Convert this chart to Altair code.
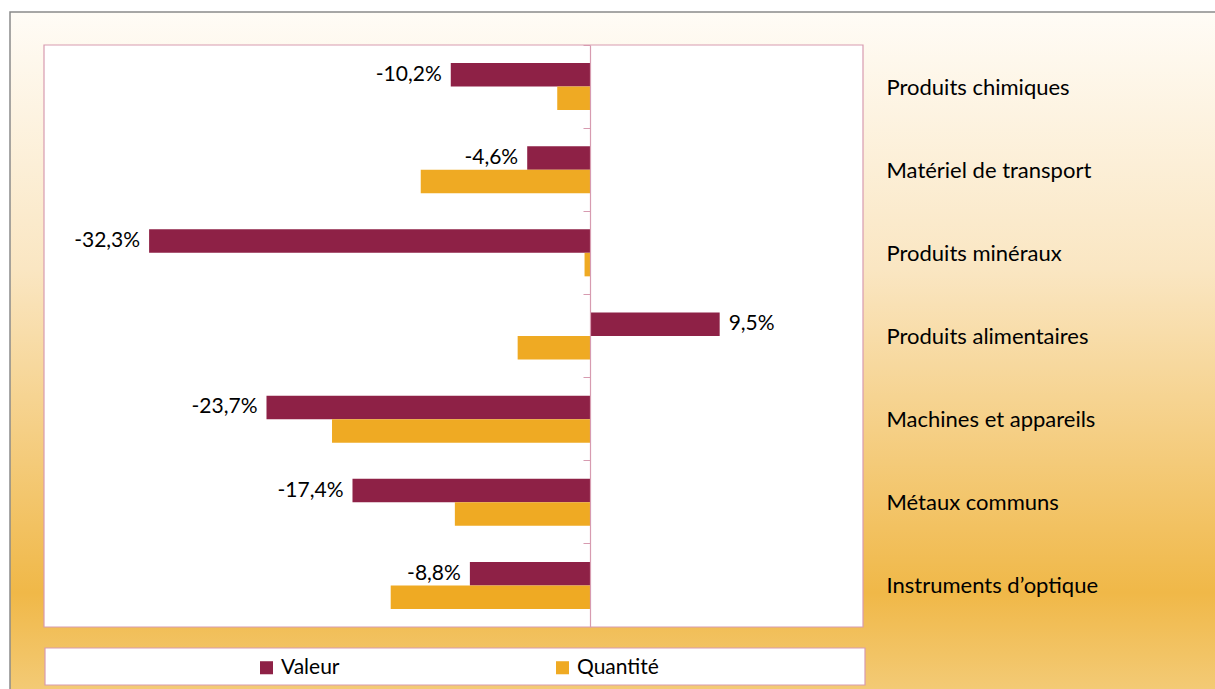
import altair as alt
import pandas as pd

categories = ["Produits chimiques", "Matériel de transport", "Produits minéraux",
              "Produits alimentaires", "Machines et appareils", "Métaux communs",
              "Instruments d’optique"]
valeur = [-10.2, -4.6, -32.3, 9.5, -23.7, -17.4, -8.8]
quantite = [-2.4, -12.4, -0.4, -5.3, -18.9, -9.9, -14.6]
series = ["Valeur", "Quantité"]
colors = ["#8E2146", "#EFAA23"]

rows = []
for c, v, q in zip(categories, valeur, quantite):
    rows.append({"cat": c, "serie": "Valeur", "val": v,
                 "label": f"{v:.1f}%".replace(".", ",")})
    rows.append({"cat": c, "serie": "Quantité", "val": q, "label": ""})
df = pd.DataFrame(rows)

W, H = 819, 582
FONT = "Lato"
PINK = "#D79BB0"

one = pd.DataFrame({"a": [0]})

bg = alt.Chart(one).mark_rect(
    stroke="#8A8A8A", strokeWidth=1.5,
    color=alt.Gradient(gradient="linear", x1=0, y1=0, x2=0, y2=1, stops=[
        alt.GradientStop(offset=0, color="#FFFCF6"),
        alt.GradientStop(offset=0.35, color="#FAE6C2"),
        alt.GradientStop(offset=0.79, color="#F0B848"),
        alt.GradientStop(offset=1, color="#F5D590"),
    ]),
).encode(x=alt.value(-34), x2=alt.value(W + 400), y=alt.value(-33), y2=alt.value(H + 120))

plotbox = alt.Chart(one).mark_rect(fill="white", stroke=PINK, strokeWidth=1.2).encode(
    x=alt.value(0), x2=alt.value(W), y=alt.value(0), y2=alt.value(H))

legbox = alt.Chart(one).mark_rect(fill="white", stroke=PINK, strokeWidth=1.2).encode(
    x=alt.value(1), x2=alt.value(W + 2), y=alt.value(603), y2=alt.value(640))

yscale = alt.Scale(domain=categories, paddingInner=0, paddingOuter=0)
yoff = alt.YOffset("serie:N", sort=series, scale=alt.Scale(paddingOuter=0.77, paddingInner=0))
xenc = alt.X("val:Q", scale=alt.Scale(domain=[-40, 20], nice=False), axis=None)

bars = alt.Chart(df).mark_bar().encode(
    x=xenc,
    y=alt.Y("cat:N", sort=categories, scale=yscale,
            axis=alt.Axis(orient="right", title=None, ticks=False, domain=False,
                          labelPadding=23, labelAlign="left", labelFontSize=22,
                          labelFont=FONT, labelColor="black", labelLimit=400,
                          labelOffset=1, zindex=2)),
    yOffset=yoff,
    color=alt.Color("serie:N", sort=series,
                    scale=alt.Scale(domain=series, range=colors),
                    legend=alt.Legend(orient="none", legendX=212, legendY=612,
                                      direction="horizontal", title=None,
                                      symbolType="square", symbolSize=170,
                                      symbolStrokeWidth=0, labelFontSize=21,
                                      labelFont=FONT, labelColor="black",
                                      columnPadding=212, labelOffset=4)),
)

neg = alt.Chart(df).transform_filter(
    "datum.serie == 'Valeur' && datum.val < 0"
).mark_text(align="right", dx=-9, fontSize=21, font=FONT, color="black").encode(
    x=xenc,
    y=alt.Y("cat:N", sort=categories, scale=yscale,
            axis=alt.Axis(orient="left", offset=-546, title=None, labels=False,
                          ticks=True, tickSize=7, bandPosition=0, tickColor=PINK,
                          domainColor=PINK, domainWidth=1.2, grid=False, zindex=2)),
    yOffset=yoff,
    text="label:N",
)

pos = alt.Chart(df).transform_filter(
    "datum.serie == 'Valeur' && datum.val >= 0"
).mark_text(align="left", dx=9, fontSize=21, font=FONT, color="black").encode(
    x=xenc,
    y=alt.Y("cat:N", sort=categories, scale=yscale, axis=None),
    yOffset=yoff,
    text="label:N",
)

chart = alt.layer(bg, plotbox, legbox, bars, neg, pos).resolve_axis(
    y="independent"
).properties(
    width=W, height=H,
    autosize=alt.AutoSizeParams(type="none"),
    padding={"left": 44, "top": 45, "right": 352, "bottom": 62},
    background="white",
).configure_view(stroke=None)

chart.save("out.html", embed_options={"renderer": "svg", "actions": False})
